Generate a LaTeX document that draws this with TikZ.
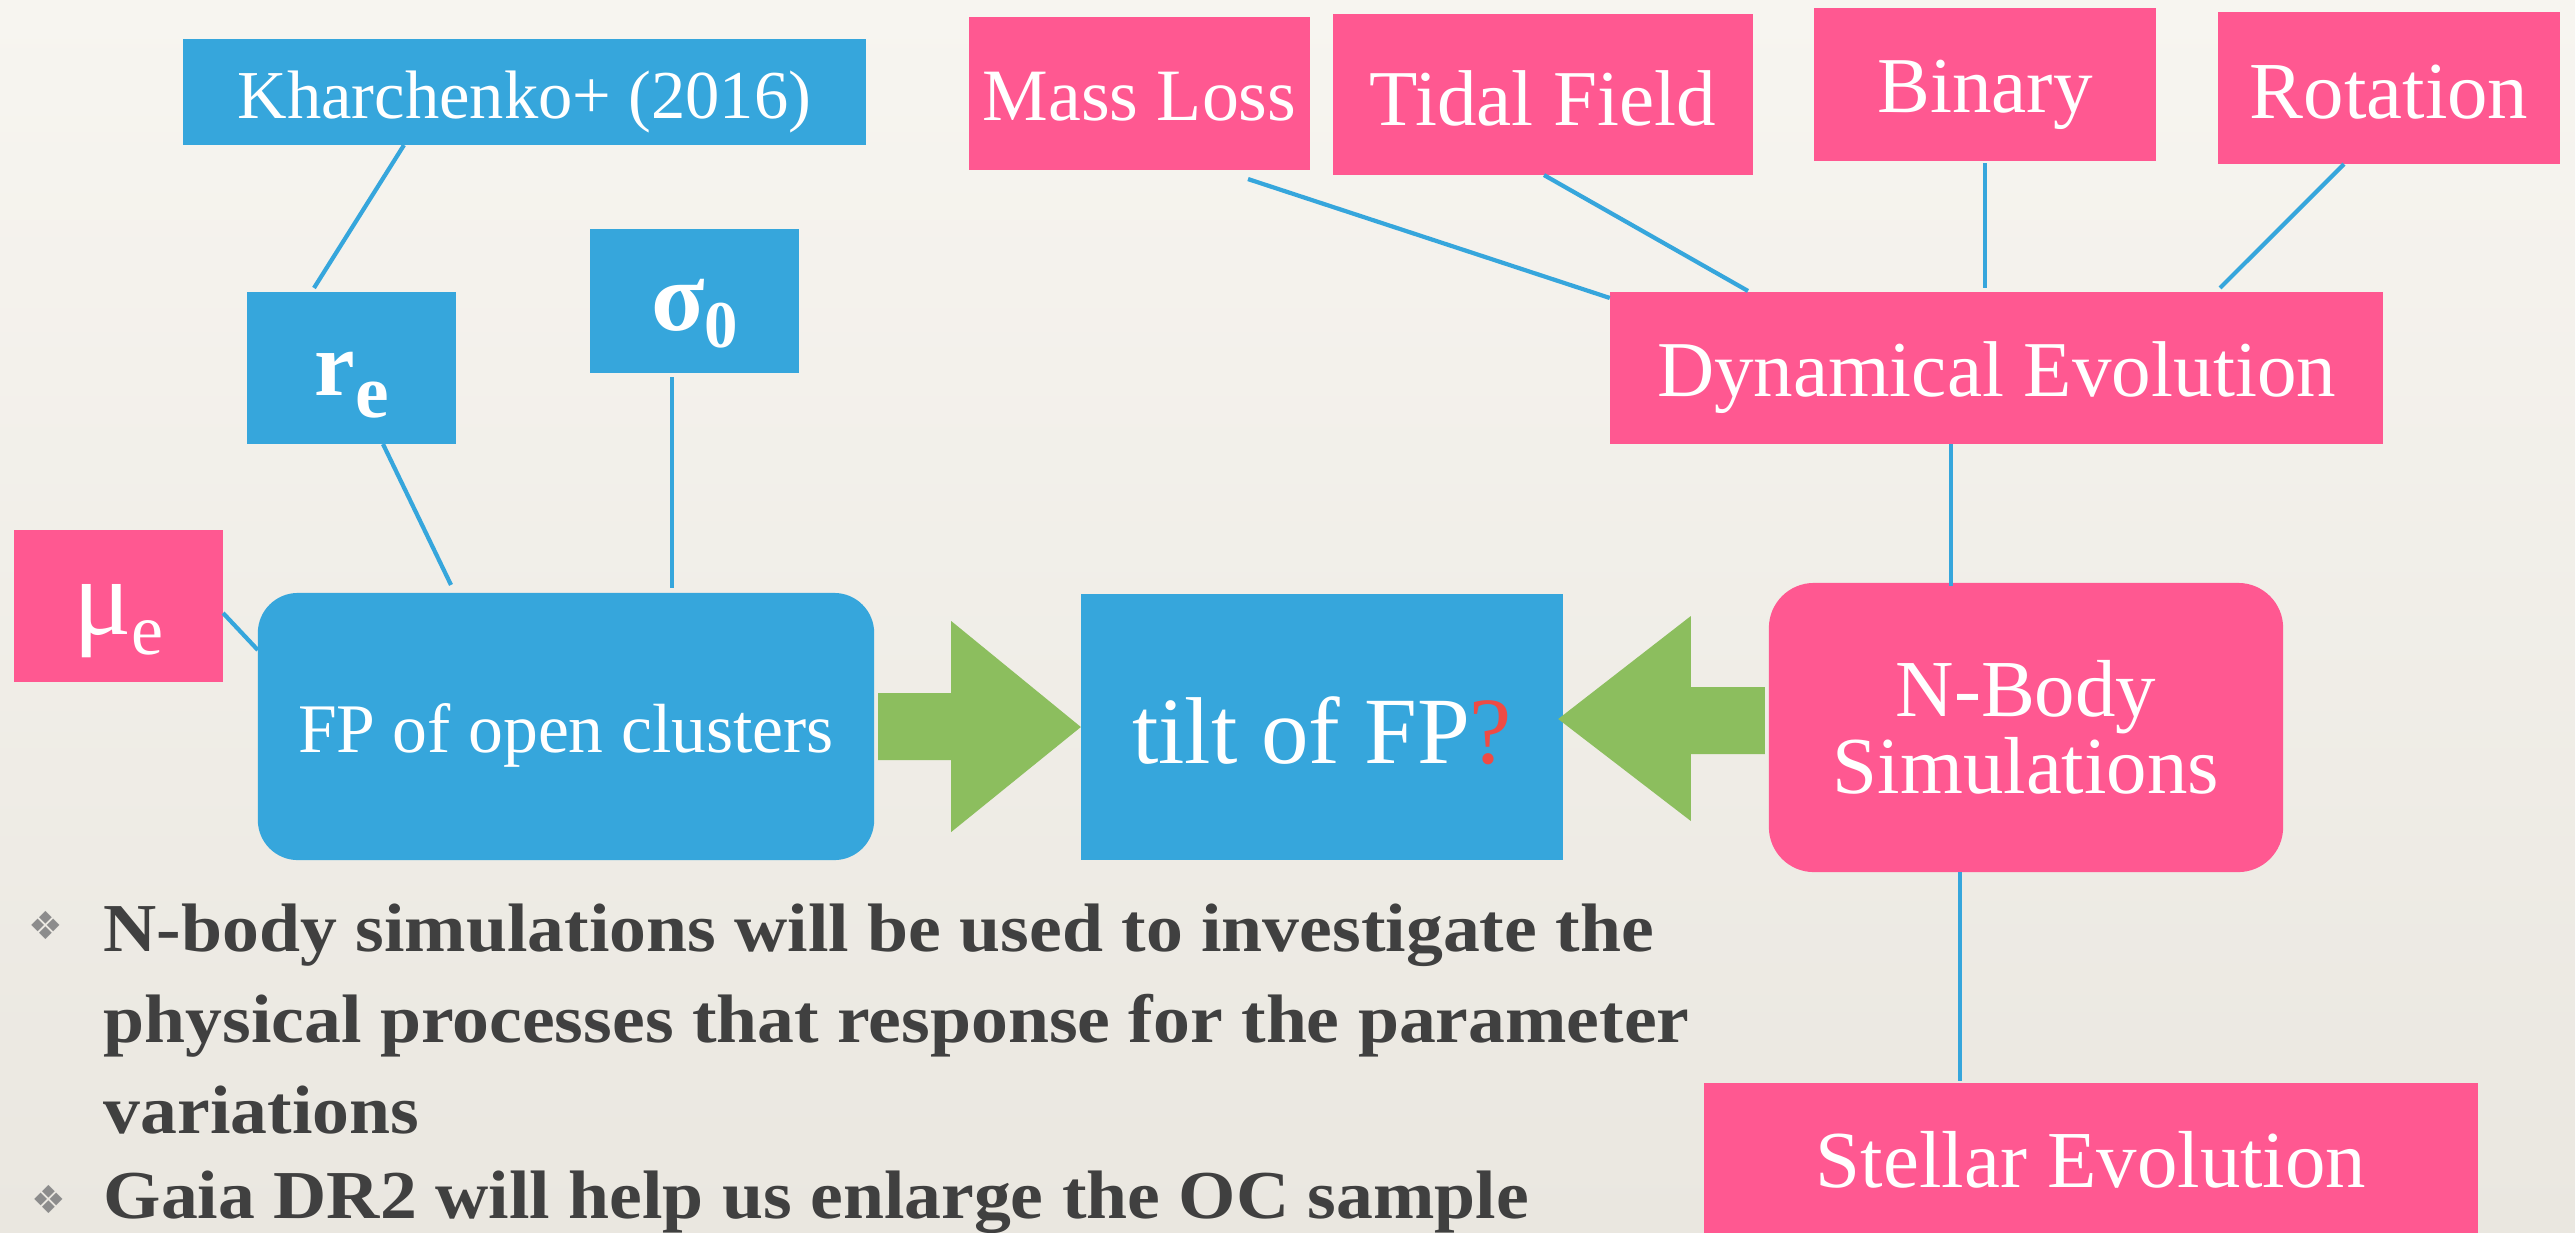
\documentclass[tikz,border=0pt]{standalone}
\usepackage{fontspec}
\setmainfont{Liberation Serif}
\newfontfamily\bodyfont{Liberation Serif}[FakeStretch=1.075]
\newfontfamily\dejavu{DejaVu Sans}
\usetikzlibrary{calc}
\definecolor{bblue}{HTML}{36A6DC}
\definecolor{ppink}{HTML}{FF5891}
\definecolor{ggreen}{HTML}{8CBE5E}
\definecolor{bgtop}{HTML}{F7F5F0}
\definecolor{bgbot}{HTML}{EAE7E0}
\definecolor{txtgray}{HTML}{404040}
\definecolor{qred}{HTML}{EE4B45}
\definecolor{bulgray}{HTML}{8C8C8C}
\newcommand\myfs[1]{\fontsize{#1}{#1}\selectfont}
\begin{document}
\begin{tikzpicture}[x=0.01cm,y=-0.01cm,
  box/.style={inner sep=0pt, outer sep=0pt, text=white, anchor=center, text depth=0pt},
  bluebox/.style={box, fill=bblue},
  pinkbox/.style={box, fill=ppink},
  link/.style={draw=bblue, line width=1.2pt},
  arrowfill/.style={fill=ggreen},
  bodytext/.style={anchor=base west, inner sep=0pt, text=txtgray, font=\bodyfont\fontsize{19.5}{22}\selectfont\bfseries},
  bulletmark/.style={inner sep=0pt, text=bulgray, font=\dejavu\fontsize{11}{13}\selectfont}
]
\useasboundingbox (0,0) rectangle (2575,1232);
\shade[top color=bgtop, bottom color=bgbot] (0,0) rectangle (2575,1232);

% left group
\node[bluebox, minimum width=6.83cm, minimum height=1.06cm, text height=0.52cm, font=\myfs{19.5}] (kh) at (524.5,92) {Kharchenko+ (2016)};
\node[bluebox, minimum width=2.09cm, minimum height=1.52cm, text height=0.54cm] (re) at (351.5,368) {\bfseries\myfs{26}r\raisebox{-6.3pt}{\myfs{21.5}e}};
\node[bluebox, minimum width=2.09cm, minimum height=1.44cm, text height=0.58cm] (sig) at (694.5,301) {\bfseries\myfs{28}σ\raisebox{-5pt}{\myfs{19}0}};
\node[pinkbox, minimum width=2.09cm, minimum height=1.52cm, text height=0.56cm] (mu) at (118.5,606) {\myfs{31}μ\raisebox{-5.7pt}{\myfs{20.5}e}};
\node[bluebox, rounded corners=0.4cm, minimum width=6.16cm, minimum height=2.67cm, text height=0.51cm, font=\myfs{19.8}] (fp) at (566,726.5) {FP of open clusters};
\node[bluebox, minimum width=4.82cm, minimum height=2.66cm, text height=0.72cm, font=\myfs{27}] (tilt) at (1322,727) {tilt of FP\textcolor{qred}{?}};

% right group
\node[pinkbox, minimum width=3.41cm, minimum height=1.53cm, text height=0.53cm, font=\myfs{21}] (ml) at (1139.5,93.5) {Mass Loss};
\node[pinkbox, minimum width=4.20cm, minimum height=1.61cm, text height=0.61cm, font=\myfs{22.5}] (tf) at (1543,94.5) {Tidal Field};
\node[pinkbox, minimum width=3.42cm, minimum height=1.53cm, text height=0.55cm, font=\myfs{22.5}] (bin) at (1985,84.5) {Binary};
\node[pinkbox, minimum width=3.42cm, minimum height=1.52cm, text height=0.60cm, font=\myfs{23}] (rot) at (2389,88) {Rotation};
\node[pinkbox, minimum width=7.73cm, minimum height=1.52cm, text height=0.56cm, font=\myfs{22.5}] (dyn) at (1996.5,368) {Dynamical Evolution};
\node[pinkbox, rounded corners=0.45cm, minimum width=5.14cm, minimum height=2.89cm, align=center, text height=, text depth=, font=\fontsize{23}{22}\selectfont] (nb) at (2026,727.5) {N-Body\\Simulations};
\node[pinkbox, minimum width=7.74cm, minimum height=1.56cm, text height=0.52cm, font=\myfs{23}] (st) at (2091,1161) {Stellar Evolution};

% connectors
\draw[link] ($(kh.south)+(-120.5,0)$) -- ($(re.north)+(-37.5,-4)$);
\draw[link] ($(re.south)+(31.5,0)$) -- ($(fp.north)+(-115,-8)$);
\draw[link] ($(sig.south)+(-22.5,4)$) -- ($(fp.north)+(106,-5)$);
\draw[link] ($(mu.east)+(0,7)$) -- ($(fp.west)+(0,-76.5)$);
\draw[link] ($(ml.south)+(108.5,9)$) -- ($(dyn.north west)+(0,6)$);
\draw[link] ($(tf.south)+(1,0)$) -- ($(dyn.north)+(-248.5,-1)$);
\draw[link] ($(bin.south)+(0,2)$) -- ($(dyn.north)+(-11.5,-4)$);
\draw[link] ($(rot.south)+(-45,0)$) -- ($(dyn.north)+(223.5,-4)$);
\draw[link] ($(dyn.south)+(-45.5,0)$) -- ($(nb.north)+(-75,3)$);
\draw[link] ($(nb.south)+(-66,0)$) -- ($(st.north)+(-131,-2)$);

% green block arrows
\fill[arrowfill] ($(fp.east)+(4,-33.5)$) -- ($(fp.east)+(77,-33.5)$) -- ($(fp.east)+(77,-105.5)$)
  -- (tilt.west) -- ($(fp.east)+(77,105.5)$) -- ($(fp.east)+(77,33.5)$) -- ($(fp.east)+(4,33.5)$) -- cycle;
\fill[arrowfill] ($(nb.west)+(-4,-40.5)$) -- ($(nb.west)+(-78,-40.5)$) -- ($(nb.west)+(-78,-111.5)$)
  -- ($(tilt.east)+(-5,-8)$) -- ($(nb.west)+(-78,93.5)$) -- ($(nb.west)+(-78,26.5)$) -- ($(nb.west)+(-4,26.5)$) -- cycle;

% bullet text
\node[bulletmark] (b1) at (46,925) {❖};
\node[bodytext] (t1a) at (103,951) {N-body simulations will be used to investigate the};
\node[bodytext] (t1b) at (103,1042) {physical processes that response for the parameter};
\node[bodytext] (t1c) at (103,1133) {variations};
\node[bulletmark] (b2) at (49,1199) {❖};
\node[bodytext] (t2) at (103,1218) {Gaia DR2 will help us enlarge the OC sample};
\end{tikzpicture}
\end{document}
